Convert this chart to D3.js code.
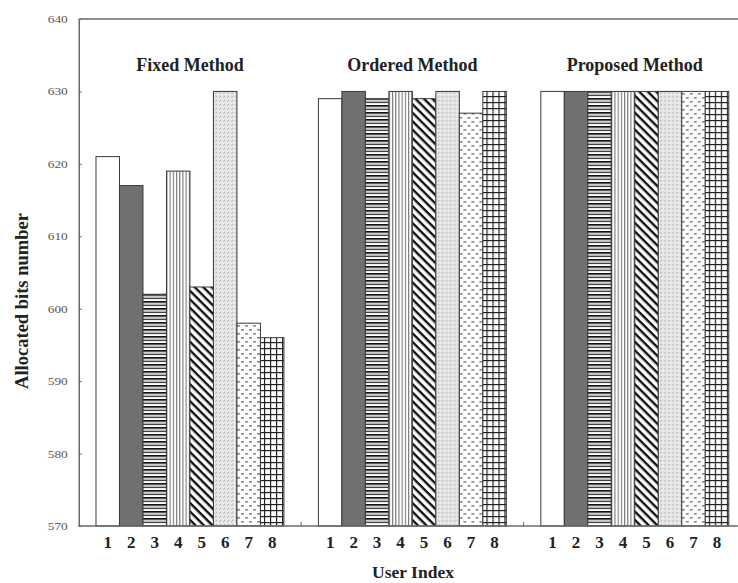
<!DOCTYPE html>
<html><head><meta charset="utf-8">
<script src="https://cdn.jsdelivr.net/npm/d3@7"></script>
<style>html,body{margin:0;padding:0;background:#fff;}svg{display:block;}</style>
</head><body>
<svg id="chart" width="738" height="583"></svg>
<script>
const groups = ["Fixed Method", "Ordered Method", "Proposed Method"];
const users = ["1","2","3","4","5","6","7","8"];
const fixedVals = [621, 617, 602, 619, 603, 630, 598, 596];
const orderedVals = [629, 630, 629, 630, 629, 630, 627, 630];
const proposedVals = [630, 630, 630, 630, 630, 630, 630, 630];
const yTicks = [570, 580, 590, 600, 610, 620, 630, 640];
const seriesVals = [fixedVals, orderedVals, proposedVals];

(function () {
const svg = d3.select("#chart");
const mLeft = 78.75, mTop = 19, mBottom = 526, mRight = 746;
const serif = "'Liberation Serif', 'Times New Roman', serif";
const axisCol = "#6a6a6a";

const x0 = d3.scaleBand().domain(groups).range([mLeft, mRight]).paddingInner(0.155).paddingOuter(0.0775);
const x1 = d3.scaleBand().domain(users).range([0, x0.bandwidth()]).padding(0);
const y = d3.scaleLinear().domain([570, 640]).range([mBottom, mTop]);

const defs = svg.append("defs");
function pat(id, w, h, bg, draw, transform) {
  const p = defs.append("pattern").attr("id", id).attr("patternUnits", "userSpaceOnUse")
    .attr("width", w).attr("height", h);
  if (transform) p.attr("patternTransform", transform);
  p.append("rect").attr("width", w).attr("height", h).attr("fill", bg);
  draw(p);
}
pat("p3", 4, 7, "#fff", p => {
  p.append("rect").attr("y", 0).attr("width", 4).attr("height", 1.8).attr("fill", "#111");
  p.append("rect").attr("y", 3.5).attr("width", 4).attr("height", 1.6).attr("fill", "#444");
  p.append("rect").attr("y", 1.8).attr("width", 4).attr("height", 1.7).attr("fill", "#ccc");
});
pat("p4", 3.2, 4, "#fff", p => {
  p.append("rect").attr("x", 0).attr("width", 1.1).attr("height", 4).attr("fill", "#777");
});
pat("p5", 6, 6, "#fff", p => {
  p.append("rect").attr("y", 0).attr("width", 6).attr("height", 2.4).attr("fill", "#111");
}, "rotate(45)");
pat("p6", 4, 4, "#e4e4e4", p => {
  p.append("rect").attr("x", 0).attr("y", 0).attr("width", 1).attr("height", 1).attr("fill", "#b0b0b0");
  p.append("rect").attr("x", 2).attr("y", 2).attr("width", 1).attr("height", 1).attr("fill", "#f8f8f8");
  p.append("rect").attr("x", 3).attr("y", 1).attr("width", 1).attr("height", 1).attr("fill", "#c0c0c0");
});
pat("p7", 8, 8, "#fff", p => {
  p.append("rect").attr("x", 1).attr("y", 1).attr("width", 3).attr("height", 1.6).attr("fill", "#888");
  p.append("rect").attr("x", 5).attr("y", 5).attr("width", 3).attr("height", 1.6).attr("fill", "#888");
});
pat("p8", 6, 6, "#fff", p => {
  p.append("rect").attr("x", 0).attr("y", 0).attr("width", 1.2).attr("height", 6).attr("fill", "#222");
  p.append("rect").attr("x", 0).attr("y", 0).attr("width", 6).attr("height", 1.2).attr("fill", "#222");
});
const fills = ["#fff", "#707070", "url(#p3)", "url(#p4)", "url(#p5)", "url(#p6)", "url(#p7)", "url(#p8)"];

groups.forEach((g, gi) => {
  const gEl = svg.append("g").attr("transform", `translate(${x0(g)},0)`);
  gEl.selectAll("rect").data(seriesVals[gi]).enter().append("rect")
    .attr("x", (d, i) => x1(users[i]))
    .attr("y", d => y(d))
    .attr("width", x1.bandwidth())
    .attr("height", d => y(570) - y(d))
    .attr("fill", (d, i) => fills[i])
    .attr("stroke", "#3a3a3a").attr("stroke-width", 1);
  svg.append("text").attr("x", x0(g) + x0.bandwidth() / 2).attr("y", 71)
    .attr("text-anchor", "middle").attr("font-family", serif).attr("font-weight", "bold")
    .attr("font-size", 18).attr("fill", "#222").text(g);
  gEl.selectAll("text.xt").data(users).enter().append("text").attr("class", "xt")
    .attr("x", d => x1(d) + x1.bandwidth() / 2).attr("y", 548)
    .attr("text-anchor", "middle").attr("font-family", serif).attr("font-weight", "bold")
    .attr("font-size", 17).attr("fill", "#222").text(d => d);
});

const yAxis = d3.axisLeft(y).tickValues(yTicks).tickSizeInner(-3).tickSizeOuter(0).tickPadding(11);
const ya = svg.append("g").attr("transform", `translate(${mLeft},0)`).call(yAxis);
ya.select(".domain").attr("stroke", axisCol).attr("stroke-width", 1.5);
ya.selectAll(".tick line").attr("stroke", axisCol);
ya.selectAll(".tick text").attr("font-family", serif).attr("font-size", 11).attr("fill", "#555")
  .attr("textLength", 20).attr("lengthAdjust", "spacingAndGlyphs");

svg.append("line").attr("x1", mLeft).attr("x2", 738).attr("y1", mTop).attr("y2", mTop)
  .attr("stroke", axisCol).attr("stroke-width", 1.5);
svg.append("line").attr("x1", mLeft).attr("x2", 738).attr("y1", mBottom).attr("y2", mBottom)
  .attr("stroke", axisCol).attr("stroke-width", 1.5);
groups.slice(1).forEach(g => {
  const sx = x0(g) - x0.step() * x0.paddingInner() / 2;
  svg.append("line").attr("x1", sx).attr("x2", sx).attr("y1", mBottom).attr("y2", mBottom - 4)
    .attr("stroke", axisCol).attr("stroke-width", 1);
});

svg.append("text").attr("x", 413).attr("y", 578).attr("text-anchor", "middle")
  .attr("font-family", serif).attr("font-weight", "bold").attr("font-size", 17.5).attr("fill", "#222")
  .text("User Index");
svg.append("text").attr("transform", "translate(28,301) rotate(-90)").attr("text-anchor", "middle")
  .attr("font-family", serif).attr("font-weight", "bold").attr("font-size", 18.5).attr("fill", "#222")
  .text("Allocated bits number");
})();
</script>
</body></html>
